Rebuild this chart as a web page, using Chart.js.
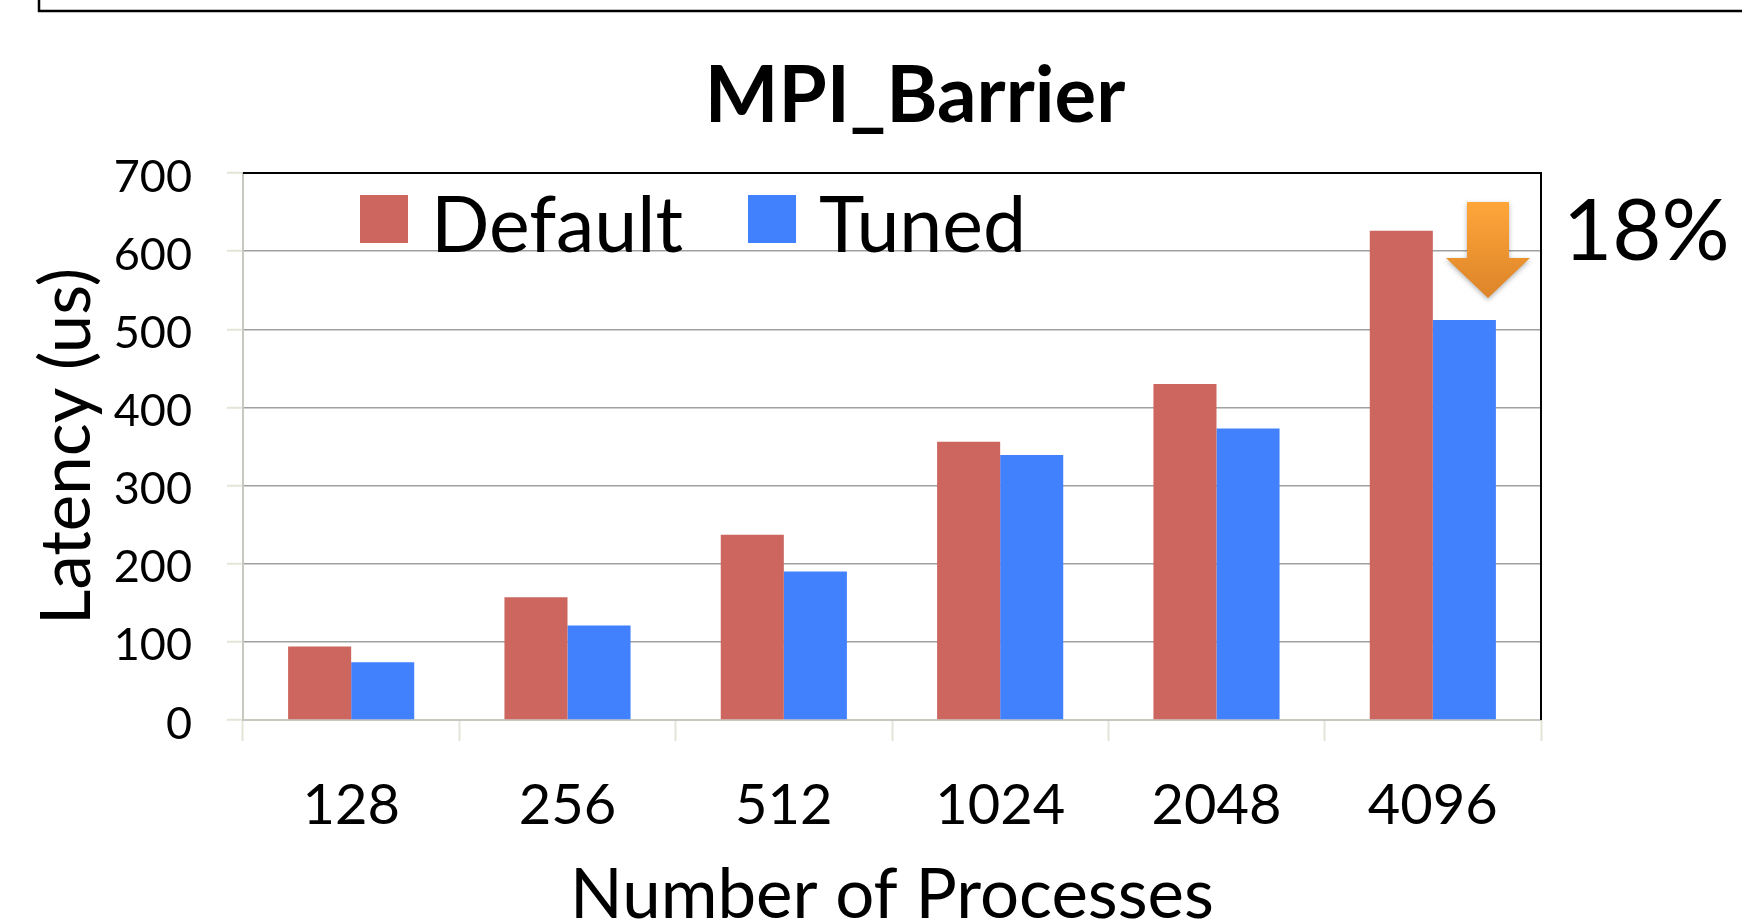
<!DOCTYPE html>
<html>
<head>
<meta charset="utf-8">
<title>MPI_Barrier</title>
<script src="https://cdn.jsdelivr.net/npm/chart.js@4.4.1/dist/chart.umd.min.js"></script>
<style>
    html, body { margin: 0; padding: 0; background: #fff; }
    #wrap { position: relative; width: 1742px; height: 923px; overflow: hidden; }
</style>
</head>
<body>
<div id="wrap"><canvas id="barrier-chart" width="1742" height="923"></canvas></div>
<script>
const categories = ['128', '256', '512', '1024', '2048', '4096'];
const seriesNames = ['Default', 'Tuned'];
const defaultLatency = [94, 157, 237, 356, 430, 626];
const tunedLatency = [74, 121, 190, 339, 373, 512];
const yMax = 700;
const yStep = 100;
const improvementLabel = '18%';

const FONT = 'Lato';

// title, inner legend, arrow and the 18% note
const decorations = {
    id: 'decorations',
    afterDraw(chart) {
        const ctx = chart.ctx;
        const area = chart.chartArea;
        ctx.save();

        // bottom edge of the slide box above the chart
        ctx.strokeStyle = '#000';
        ctx.lineWidth = 2.5;
        ctx.beginPath();
        ctx.moveTo(39, 0);
        ctx.lineTo(39, 11);
        ctx.lineTo(chart.width, 11);
        ctx.stroke();

        // top and right frame of the plot
        ctx.lineWidth = 2;
        ctx.beginPath();
        ctx.moveTo(area.left, area.top);
        ctx.lineTo(area.right, area.top);
        ctx.lineTo(area.right, area.bottom);
        ctx.stroke();

        ctx.fillStyle = '#000';
        ctx.textBaseline = 'alphabetic';
        ctx.textAlign = 'center';
        ctx.font = `bold 78px ${FONT}`;
        ctx.fillText('MPI_Barrier', (area.left + area.right) / 2 + 23, 122);

        // legend
        ctx.textAlign = 'left';
        ctx.font = `77px ${FONT}`;
        let x = area.left + 117;
        chart.data.datasets.forEach(ds => {
            ctx.fillStyle = ds.backgroundColor;
            ctx.fillRect(x, 195, 48, 48);
            ctx.fillStyle = '#000';
            ctx.fillText(ds.label, x + 71, 252);
            x += 71 + ctx.measureText(ds.label).width + 65;
        });

        // arrow
        const ax = area.right - 53;
        const grad = ctx.createLinearGradient(0, 202, 0, 298);
        grad.addColorStop(0, '#FFA63A');
        grad.addColorStop(1, '#DC8429');
        ctx.save();
        ctx.shadowColor = 'rgba(0,0,0,0.3)';
        ctx.shadowBlur = 5;
        ctx.shadowOffsetY = 2;
        ctx.fillStyle = grad;
        ctx.beginPath();
        ctx.moveTo(ax - 21, 202);
        ctx.lineTo(ax + 21, 202);
        ctx.lineTo(ax + 21, 258);
        ctx.lineTo(ax + 42, 258);
        ctx.lineTo(ax, 298);
        ctx.lineTo(ax - 42, 258);
        ctx.lineTo(ax - 21, 258);
        ctx.closePath();
        ctx.fill();
        ctx.restore();

        ctx.fillStyle = '#000';
        ctx.font = `85px ${FONT}`;
        ctx.fillText(improvementLabel, area.right + 22, 260);

        ctx.restore();
    }
};

function drawChart() {
    const ctx = document.getElementById('barrier-chart').getContext('2d');
    new Chart(ctx, {
        type: 'bar',
        data: {
            labels: categories,
            datasets: [
                { label: seriesNames[0], data: defaultLatency, backgroundColor: '#CC665F' },
                { label: seriesNames[1], data: tunedLatency, backgroundColor: '#4181FE' }
            ]
        },
        options: {
            responsive: false,
            animation: false,
            devicePixelRatio: 1,
            layout: { padding: { top: 173, right: 201, bottom: 0, left: 0 } },
            datasets: {
                bar: { categoryPercentage: 0.583, barPercentage: 1, borderWidth: 0 }
            },
            plugins: {
                legend: { display: false },
                title: { display: false },
                tooltip: { enabled: false }
            },
            scales: {
                x: {
                    afterFit: scale => { scale.height = 203; },
                    grid: {
                        offset: true,
                        drawOnChartArea: false,
                        drawTicks: true,
                        tickLength: 21,
                        tickColor: '#e4e4d8',
                        tickWidth: 2
                    },
                    border: { color: '#c8c8c0', width: 2 },
                    ticks: {
                        color: '#000',
                        padding: 37,
                        font: { family: FONT, size: 56, lineHeight: 1 }
                    },
                    title: {
                        display: true,
                        text: 'Number of Processes',
                        color: '#000',
                        font: { family: FONT, size: 69, lineHeight: 0.8 },
                        padding: { top: 0, bottom: 0 }
                    }
                },
                y: {
                    min: 0,
                    max: yMax,
                    afterFit: scale => { scale.width = 243; },
                    grid: {
                        color: c => (c.tick && c.tick.value === 0) ? '#c8c8c0' : '#a0a0a0',
                        lineWidth: 1.5,
                        drawTicks: true,
                        tickLength: 16,
                        tickColor: '#e4e4d8',
                        tickWidth: 2
                    },
                    border: { color: '#c8c8c0', width: 2 },
                    ticks: {
                        stepSize: yStep,
                        color: '#000',
                        padding: 35,
                        labelOffset: 4,
                        font: { family: FONT, size: 45 }
                    },
                    title: {
                        display: true,
                        text: 'Latency (us)',
                        color: '#000',
                        font: { family: FONT, size: 69, lineHeight: 1.2 },
                        padding: { top: 26, bottom: 0 }
                    }
                }
            }
        },
        plugins: [decorations]
    });
}

document.addEventListener('DOMContentLoaded', function() {
    Promise.all([
        document.fonts.load(`45px ${FONT}`),
        document.fonts.load(`bold 78px ${FONT}`)
    ]).then(drawChart, drawChart);
});
</script>
</body>
</html>
